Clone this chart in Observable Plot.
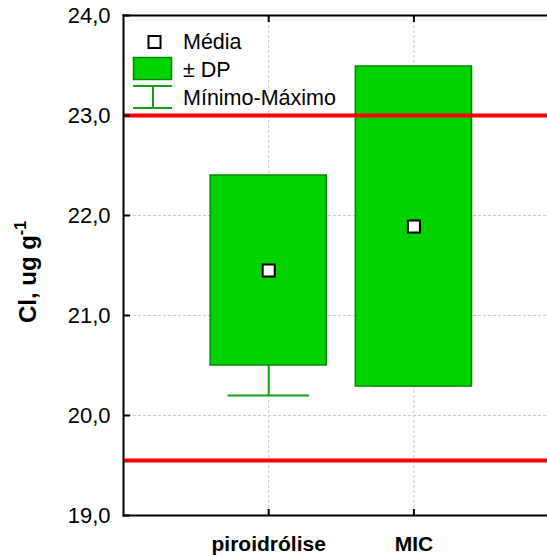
<!DOCTYPE html>
<html><head><meta charset="utf-8">
<script src="https://cdn.jsdelivr.net/npm/d3@7"></script>
<script src="https://cdn.jsdelivr.net/npm/@observablehq/plot@0.6"></script>
<style>body{margin:0;background:#fff} svg{font-family:"Liberation Sans",Arial,sans-serif}</style>
</head><body><div id="chart"></div>
<script>
const categories = ["piroidrólise", "MIC"];
const means = [21.45, 21.89];
const sds = [0.95, 1.6];
const mins = [20.2, 20.3];
const maxs = [22.3, 23.45];
const limitLines = [23.0, 19.55];
const yTicks = [19, 20, 21, 22, 23, 24];
const legendLabels = ["Média", "± DP", "Mínimo-Máximo"];
const yTitle = "Cl, ug g";
const yTitleSup = "-1";

const data = categories.map((c, i) => ({
  cat: c, pos: i + 1, mean: means[i],
  lo: means[i] - sds[i], hi: means[i] + sds[i],
  min: mins[i], max: maxs[i]
}));
const fmt = v => v.toFixed(1).replace(".", ",");
const boxFill = "#00d200", boxStroke = "#008a00", whisk = "#12a012";

const chart = Plot.plot({
  width: 547, height: 557,
  marginLeft: 123, marginRight: 0, marginTop: 15, marginBottom: 42,
  style: {fontFamily: "'Liberation Sans', Arial, sans-serif", fontSize: "21px", color: "#000", background: "#fff"},
  x: {domain: [0, 2.92]},
  y: {domain: [19, 24]},
  marks: [
    Plot.gridY(yTicks, {stroke: "#c8c8c8", strokeOpacity: 1, strokeDasharray: "3,2"}),
    Plot.gridX([1, 2], {stroke: "#c8c8c8", strokeOpacity: 1, strokeDasharray: "3,2"}),
    Plot.ruleX(data, {x: "pos", y1: "min", y2: "lo", stroke: whisk, strokeWidth: 2}),
    Plot.ruleX(data, {x: "pos", y1: "hi", y2: "max", stroke: whisk, strokeWidth: 2}),
    Plot.ruleY(data, {y: "min", x1: d => d.pos - 0.28, x2: d => d.pos + 0.28, stroke: whisk, strokeWidth: 2}),
    Plot.ruleY(data, {y: "max", x1: d => d.pos - 0.28, x2: d => d.pos + 0.28, stroke: whisk, strokeWidth: 2}),
    Plot.rect(data, {x1: d => d.pos - 0.4, x2: d => d.pos + 0.4, y1: "lo", y2: "hi", fill: boxFill, stroke: boxStroke, strokeWidth: 1.5}),
    Plot.ruleY(limitLines, {stroke: "#ff0000", strokeWidth: 4}),
    Plot.dot(data, {x: "pos", y: "mean", symbol: "square", r: 6.8, fill: "#fff", stroke: "#000", strokeWidth: 2}),
    Plot.frame({anchor: "left", stroke: "#000", strokeWidth: 2}),
    Plot.frame({anchor: "top", stroke: "#000", strokeWidth: 2}),
    Plot.frame({anchor: "bottom", stroke: "#000", strokeWidth: 2}),
    Plot.axisY(yTicks, {anchor: "left", tickSize: -7, tickPadding: 20, tickFormat: fmt, fontSize: 22, label: null, strokeWidth: 2}),
    Plot.axisX([1, 2], {anchor: "bottom", tickSize: -6, tickPadding: 27, tickFormat: d => categories[d - 1], fontSize: 21, fontWeight: "bold", label: null, strokeWidth: 2}),
    Plot.axisX([1, 2], {anchor: "top", tickSize: -6, tickFormat: () => "", label: null, strokeWidth: 2})
  ]
});
document.getElementById("chart").appendChild(chart);

const svg = d3.select(chart);
// y-axis title with superscript
const t = svg.append("text")
  .attr("transform", "translate(36,272) rotate(-90)")
  .attr("text-anchor", "middle")
  .attr("font-size", 24).attr("font-weight", "bold").attr("fill", "#000");
t.append("tspan").text(yTitle);
t.append("tspan").attr("dy", -10).attr("font-size", 16).text(yTitleSup);

// legend
const lg = svg.append("g").attr("font-size", 21.5).attr("fill", "#000").attr("text-anchor", "start");
lg.append("rect").attr("x", 148.5).attr("y", 36).attr("width", 12).attr("height", 12)
  .attr("fill", "#fff").attr("stroke", "#000").attr("stroke-width", 2);
lg.append("rect").attr("x", 133.5).attr("y", 57.5).attr("width", 38).attr("height", 22)
  .attr("fill", boxFill).attr("stroke", boxStroke).attr("stroke-width", 1.5);
lg.append("line").attr("x1", 133).attr("x2", 172).attr("y1", 86).attr("y2", 86).attr("stroke", whisk).attr("stroke-width", 2);
lg.append("line").attr("x1", 133).attr("x2", 172).attr("y1", 108).attr("y2", 108).attr("stroke", whisk).attr("stroke-width", 2);
lg.append("line").attr("x1", 153).attr("x2", 153).attr("y1", 86).attr("y2", 108).attr("stroke", whisk).attr("stroke-width", 2);
[41, 69, 97].forEach((cy, i) => {
  lg.append("text").attr("x", 183).attr("y", cy).attr("dy", "0.35em").attr("text-anchor", "start").text(legendLabels[i]);
});
</script></body></html>
